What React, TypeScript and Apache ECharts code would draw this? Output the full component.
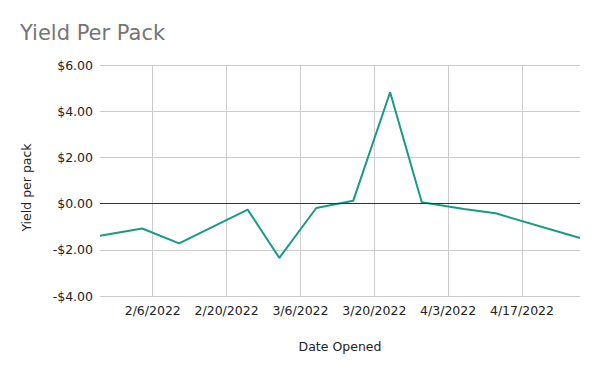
import React, { useEffect, useRef } from "react";
import * as echarts from "echarts";

const dates = ["2022-01-27", "2022-02-04", "2022-02-11", "2022-02-24", "2022-03-02", "2022-03-09", "2022-03-16", "2022-03-23", "2022-03-29", "2022-04-06", "2022-04-12", "2022-04-28"];
const yields = [-1.39, -1.08, -1.72, -0.26, -2.35, -0.19, 0.12, 4.82, 0.06, -0.23, -0.42, -1.49];
const xTicks = ["2022-02-06", "2022-02-20", "2022-03-06", "2022-03-20", "2022-04-03", "2022-04-17"];

const ts = (s: string) => Date.parse(s + "T00:00:00Z");

export default function App() {
  const ref = useRef<HTMLDivElement>(null);
  useEffect(() => {
    if (!ref.current) return;
    const chart = echarts.init(ref.current, undefined, { renderer: "svg" });
    const font = "DejaVu Sans";
    const tickVals = xTicks.map(ts);
    chart.setOption({
      animation: false,
      textStyle: { fontFamily: font },
      title: {
        text: "Yield Per Pack",
        left: 15,
        top: 17,
        textStyle: { fontFamily: font, fontSize: 21, fontWeight: "normal", color: "#757575" },
      },
      grid: { left: 100, right: 20, top: 65, bottom: 75 },
      xAxis: {
        type: "value",
        min: ts(dates[0]),
        max: ts(dates[dates.length - 1]),
        name: "Date Opened",
        nameLocation: "middle",
        nameGap: 44,
        nameTextStyle: { fontFamily: font, fontSize: 12.5, color: "#222" },
        axisLine: { show: true, lineStyle: { color: "#c8c8c8" } },
        axisTick: { show: false, customValues: tickVals },
        axisLabel: {
          customValues: tickVals,
          fontFamily: font,
          fontSize: 12.5,
          color: "#222",
          margin: 8,
          formatter: (v: number) => {
            const d = new Date(v);
            return `${d.getUTCMonth() + 1}/${d.getUTCDate()}/${d.getUTCFullYear()}`;
          },
        },
        splitLine: { show: true, lineStyle: { color: "#cccccc" } },
      },
      yAxis: {
        type: "value",
        min: -4,
        max: 6,
        interval: 2,
        name: "Yield per pack",
        nameLocation: "middle",
        nameGap: 67,
        nameTextStyle: { fontFamily: font, fontSize: 12.5, color: "#222", padding: [0, 14, 0, 0] },
        axisLine: { show: false },
        axisTick: { show: false },
        axisLabel: {
          fontFamily: font,
          fontSize: 12.5,
          color: "#222",
          margin: 7,
          formatter: (v: number) => (v < 0 ? "-$" : "$") + Math.abs(v).toFixed(2),
        },
        splitLine: { show: true, lineStyle: { color: "#cccccc" } },
      },
      series: [
        {
          type: "line",
          data: dates.map((d, i) => [ts(d), yields[i]]),
          showSymbol: false,
          symbol: "none",
          lineStyle: { color: "#1a9a85", width: 2 },
          itemStyle: { color: "#1a9a85" },
          markLine: {
            silent: true,
            symbol: "none",
            label: { show: false },
            lineStyle: { color: "#333333", width: 1, type: "solid" },
            data: [{ yAxis: 0 }],
          },
          z: 3,
        },
      ],
    });
    return () => chart.dispose();
  }, []);
  return <div ref={ref} style={{ position: "absolute", left: 0, top: 0, width: 600, height: 371 }} />;
}
